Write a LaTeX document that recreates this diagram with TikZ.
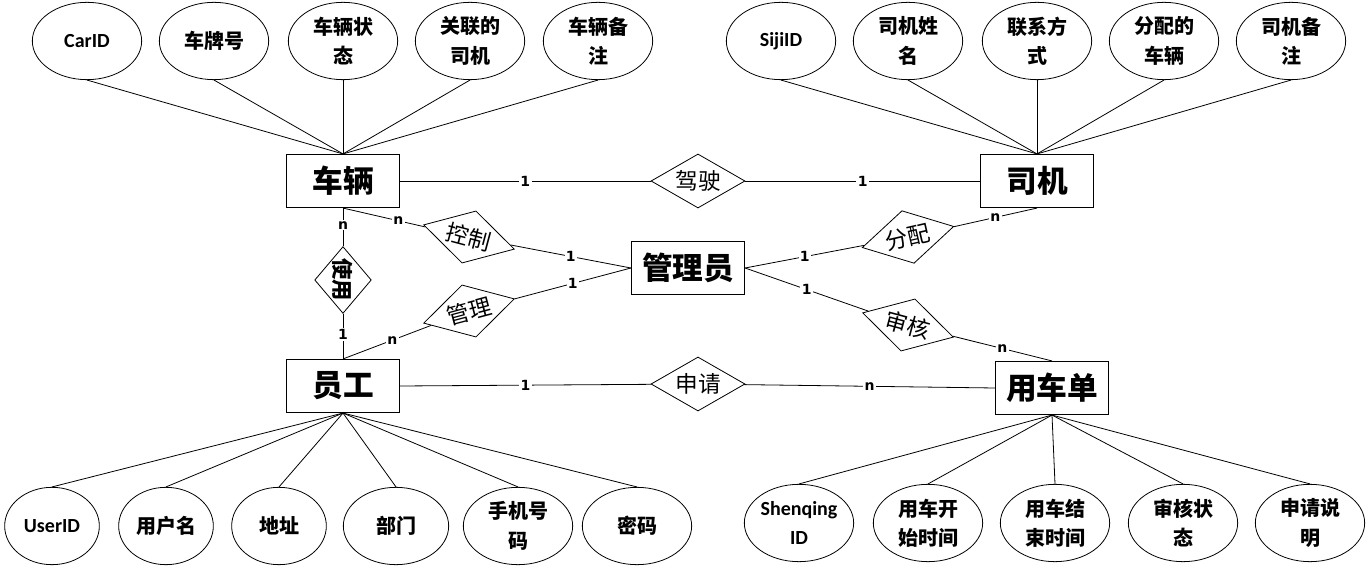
\documentclass[tikz,border=0pt]{standalone}
\usepackage{fontspec}
\setmainfont{Carlito}
\newfontfamily\cjk{Noto Sans CJK SC}
\newfontfamily\cardfont{DejaVu Sans}
\usetikzlibrary{shapes.geometric}

\begin{document}
\begin{tikzpicture}[x=0.75pt,y=-0.75pt,line width=0.6pt,
  entity/.style={draw,rectangle,minimum width=85pt,minimum height=40pt,inner sep=0pt,
    font=\cjk\bfseries\fontsize{23}{26}\selectfont},
  attr/.style={draw,ellipse,minimum width=82pt,minimum height=58pt,inner sep=0pt,align=center,
    font=\cjk\bfseries\fontsize{15}{22}\selectfont},
  latattr/.style={attr,font=\bfseries\fontsize{15}{20}\selectfont},
  relation/.style={draw,diamond,aspect=1.74,minimum width=70.5pt,minimum height=40.5pt,
    inner sep=0pt,fill=white,font=\cjk\fontsize{17}{18}\selectfont},
  card/.style={fill=white,inner sep=1pt,font=\cardfont\bfseries\fontsize{10.5}{11}\selectfont}]
  \useasboundingbox (0,0) rectangle (1370,573);

  % Entities
  \node[entity] (cheliang) at (343,181) {车辆};
  \node[entity] (siji) at (1037,181) {司机};
  \node[entity] (guanliyuan) at (688,268) {管理员};
  \node[entity] (yuangong) at (343,386) {员工};
  \node[entity] (yongchedan) at (1052,388) {用车单};

  % Relations
  \node[relation] (jiashi) at (698,181) {驾驶};
  \node[relation,rotate=-15] (kongzhi) at (469,237) {控制};
  \node[relation,rotate=15] (guanli) at (469,311) {管理};
  \node[relation,rotate=13] (fenpei) at (908,237) {分配};
  \node[relation,rotate=-15] (shenhe) at (908,325) {审核};
  \node[relation] (shenqing) at (698,384) {申请};
  \node[relation,rotate=-90,aspect=1.18,minimum width=49pt,minimum height=42pt,
    font=\cjk\bfseries\fontsize{16}{18}\selectfont] (shiyong) at (343,280) {使用};

  % Attributes of the car and the driver
  \node[latattr] (carid) at (87,41) {CarID};
  \node[attr] (chepai) at (214,41) {车牌号};
  \node[attr] (chezt) at (343,41) {车辆状\\态};
  \node[attr] (guansj) at (470,41) {关联的\\司机};
  \node[attr] (chebz) at (598,41) {车辆备\\注};
  \node[latattr] (sijiid) at (781,41) {SijiID};
  \node[attr] (sijixm) at (908,41) {司机姓\\名};
  \node[attr] (lianxi) at (1037,41) {联系方\\式};
  \node[attr] (fenpcl) at (1164,41) {分配的\\车辆};
  \node[attr] (sijibz) at (1291,41) {司机备\\注};

  % Attributes of the staff and the request
  \node[latattr,minimum width=71pt] (userid) at (52,526) {UserID};
  \node[attr,minimum width=71pt] (yonghum) at (166,526) {用户名};
  \node[attr,minimum width=71pt] (dizhi) at (279,526) {地址};
  \node[attr,minimum width=79pt] (bumen) at (396,526) {部门};
  \node[attr] (shouji) at (518,526) {手机号\\码};
  \node[attr] (mima) at (637,526) {密码};
  \node[latattr,font=\bfseries\fontsize{15}{22}\selectfont] (sqid) at (799,523) {Shenqing\\ID};
  \node[attr] (kaishi) at (928,523) {用车开\\始时间};
  \node[attr] (jieshu) at (1055,523) {用车结\\束时间};
  \node[attr] (shenzt) at (1183,523) {审核状\\态};
  \node[attr] (shuoming) at (1310,523) {申请说\\明};

  % Attribute lines
  \draw (carid.south) -- (cheliang.north);
  \draw (chepai.south) -- (cheliang.north);
  \draw (chezt.south) -- (cheliang.north);
  \draw (guansj.south) -- (cheliang.north);
  \draw (chebz.south) -- (cheliang.north);
  \draw (sijiid.south) -- (siji.north);
  \draw (sijixm.south) -- (siji.north);
  \draw (lianxi.south) -- (siji.north);
  \draw (fenpcl.south) -- (siji.north);
  \draw (sijibz.south) -- (siji.north);
  \draw (userid.north) -- (yuangong.south);
  \draw (yonghum.north) -- (yuangong.south);
  \draw (dizhi.north) -- (yuangong.south);
  \draw (bumen.north) -- (yuangong.south);
  \draw (shouji.north) -- (yuangong.south);
  \draw (mima.north) -- (yuangong.south);
  \draw (sqid.north) -- (yongchedan.south);
  \draw (kaishi.north) -- (yongchedan.south);
  \draw (jieshu.north) -- (yongchedan.south);
  \draw (shenzt.north) -- (yongchedan.south);
  \draw (shuoming.north) -- (yongchedan.south);

  % Relation lines
  \draw (cheliang.east) -- node[card] (c1) {1} (jiashi);
  \draw (jiashi) -- node[card] (c2) {1} (siji.west);
  \draw (cheliang.south) -- node[card,pos=0.67] (c3) {n} (kongzhi);
  \draw (kongzhi) -- node[card] (c4) {1} (guanliyuan.west);
  \draw (yuangong.north) -- node[card,pos=0.56] (c5) {n} (guanli);
  \draw (guanli) -- node[card] (c6) {1} (guanliyuan.west);
  \draw (cheliang.south) -- node[card,pos=0.45] (c7) {n} (shiyong);
  \draw (shiyong) -- node[card,pos=0.45] (c8) {1} (yuangong.north);
  \draw (guanliyuan.east) -- node[card] (c9) {1} (fenpei);
  \draw (fenpei) -- node[card] (c10) {n} (siji.south);
  \draw (guanliyuan.east) -- node[card] (c11) {1} (shenhe);
  \draw (shenhe) -- node[card] (c12) {n} (yongchedan.north);
  \draw (yuangong.east) -- node[card] (c13) {1} (shenqing);
  \draw (shenqing) -- node[card] (c14) {n} (yongchedan.west);
\end{tikzpicture}
\end{document}
